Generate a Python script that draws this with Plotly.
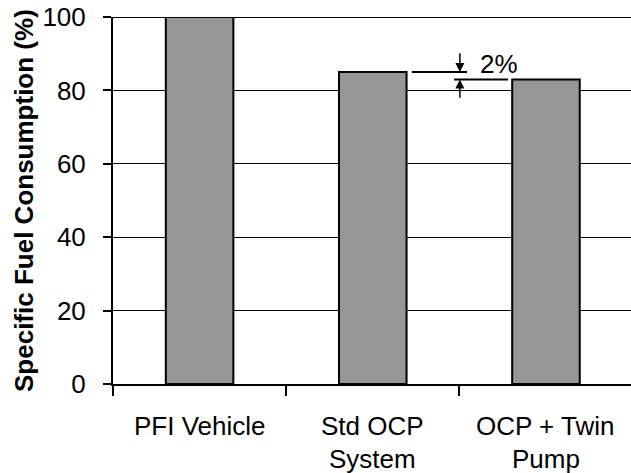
import plotly.graph_objects as go

# ---- data ----
categories = ["PFI Vehicle", "Std OCP<br>System", "OCP + Twin<br>Pump"]
values = [100, 85, 83]
y_ticks = [0, 20, 40, 60, 80, 100]
y_title = "Specific Fuel Consumption (%)"
diff_label = "2%"

FONT = "Liberation Sans, Arial, sans-serif"
FS = 26
W, H = 631, 473
ML, MR, MT, MB = 113, 0, 17, 89
x_range = [-0.5, 2.491]

fig = go.Figure()
fig.add_trace(go.Bar(
    x=list(range(len(categories))), y=values,
    width=0.39,
    marker=dict(color="#969696", line=dict(color="black", width=2)),
    hoverinfo="skip",
))

fig.update_layout(
    width=W, height=H,
    margin=dict(l=ML, r=MR, t=MT, b=MB, pad=0),
    paper_bgcolor="white", plot_bgcolor="white",
    showlegend=False,
    font=dict(family=FONT, size=FS, color="black"),
    xaxis=dict(
        range=x_range, showgrid=False, zeroline=False,
        showline=True, linecolor="black", linewidth=2,
        tickvals=[i - 0.5 for i in range(len(categories))],
        ticktext=["" for _ in categories],
        ticks="outside", ticklen=10, tickwidth=2, tickcolor="black",
    ),
    yaxis=dict(
        range=[0, 100], tickvals=y_ticks, ticktext=[str(v) for v in y_ticks],
        showgrid=True, gridcolor="black", gridwidth=1,
        zeroline=False, showline=True, linecolor="black", linewidth=2,
        ticks="outside", ticklen=8, tickwidth=2, tickcolor="black",
        ticklabelstandoff=12,
        tickfont=dict(size=FS),
    ),
)

# top border line at 100
fig.add_shape(type="line", xref="paper", yref="y", x0=0, x1=1,
              y0=y_ticks[-1], y1=y_ticks[-1], line=dict(color="black", width=2))

# category labels, one annotation per line
plot_h = H - MT - MB
for i, lab in enumerate(categories):
    for j, line in enumerate(lab.split("<br>")):
        fig.add_annotation(
            x=i, xref="x", y=-(26 + 32.5 * j) / plot_h, yref="paper",
            text=line, showarrow=False, xanchor="center", yanchor="top",
            font=dict(size=FS, family=FONT), borderpad=0,
        )

# y axis title
fig.add_annotation(
    x=(24 - ML) / (W - ML - MR), xref="paper", y=(H - MB - 201) / plot_h, yref="paper",
    text="<b>" + y_title + "</b>", textangle=-90, showarrow=False,
    xanchor="center", yanchor="middle", font=dict(size=FS, family=FONT),
)

# difference indicator between bar 2 and bar 3
v2, v3 = values[1], values[2]
fig.add_shape(type="line", xref="x", yref="y", x0=1 + 0.226, x1=1 + 0.544,
              y0=v2, y1=v2, line=dict(color="black", width=2))
fig.add_shape(type="line", xref="x", yref="y", x0=2 - 0.531, x1=2 - 0.219,
              y0=v3, y1=v3, line=dict(color="black", width=2))
xa = 1.503
fig.add_annotation(x=xa, y=v2, ax=xa, ay=v2 + 5.5, xref="x", yref="y", axref="x", ayref="y",
                   showarrow=True, arrowhead=2, arrowsize=1.2, arrowwidth=1.5, arrowcolor="black",
                   text="", standoff=0)
fig.add_annotation(x=xa, y=v3, ax=xa, ay=v3 - 5.4, xref="x", yref="y", axref="x", ayref="y",
                   showarrow=True, arrowhead=2, arrowsize=1.2, arrowwidth=1.5, arrowcolor="black",
                   text="", standoff=0)
fig.add_annotation(x=1.607, y=v2 + 2.1, xref="x", yref="y", text=diff_label,
                   showarrow=False, xanchor="left", yanchor="middle",
                   font=dict(size=FS, family=FONT))

fig.write_html("out.html")
